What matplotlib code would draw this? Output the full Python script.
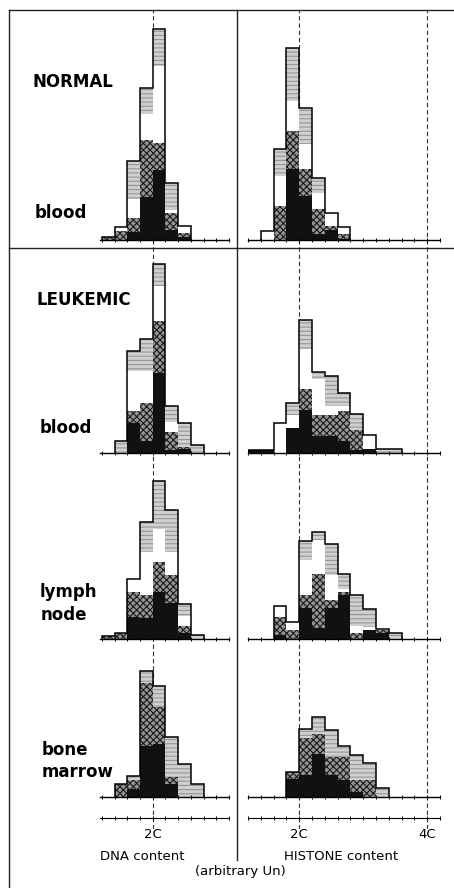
import numpy as np
import matplotlib.pyplot as plt
from matplotlib.lines import Line2D

W, H = 454, 888   # output size in pixels
bw = 0.2          # class width, in C units

# Stacked histograms, cells per class (arbitrary units)
# layer order, bottom to top: black, cross-hatched, white, lined

# NORMAL blood
nb_dna_start = 1.2
nb_dna_black = [0, 0, 8, 43, 70, 10, 3]
nb_dna_cross = [3, 9, 14, 57, 27, 17, 4]
nb_dna_white = [0, 4, 19, 26, 77, 3, 7]
nb_dna_lined = [0, 0, 38, 26, 37, 27, 0]

nb_his_start = 1.4
nb_his_black = [0, 0, 71, 44, 6, 10, 1]
nb_his_cross = [0, 34, 38, 27, 25, 4, 5]
nb_his_white = [9, 30, 30, 25, 16, 13, 7]
nb_his_lined = [0, 27, 53, 36, 15, 0, 0]

# LEUKEMIC blood
lb_dna_start = 1.4
lb_dna_black = [0, 30, 12, 80, 3, 4, 0]
lb_dna_cross = [0, 12, 38, 52, 18, 2, 0]
lb_dna_white = [0, 40, 32, 35, 10, 0, 0]
lb_dna_lined = [12, 20, 32, 22, 16, 24, 8]

lb_his_start = 1.2
lb_his_black = [3, 3, 0, 25, 43, 17, 17, 12, 3, 4, 0, 0]
lb_his_cross = [0, 0, 0, 0, 21, 21, 21, 30, 20, 0, 0, 0]
lb_his_white = [0, 0, 30, 13, 40, 36, 9, 5, 0, 14, 0, 0]
lb_his_lined = [0, 0, 0, 12, 29, 7, 30, 13, 16, 0, 4, 4]

# LEUKEMIC lymph node
ln_dna_start = 1.2
ln_dna_black = [0, 0, 22, 21, 47, 36, 6, 0]
ln_dna_cross = [3, 6, 25, 23, 30, 28, 7, 0]
ln_dna_white = [0, 0, 13, 43, 33, 23, 10, 0]
ln_dna_lined = [0, 0, 0, 30, 48, 42, 12, 4]

ln_his_start = 1.6
ln_his_black = [4, 0, 31, 11, 31, 44, 0, 9, 6, 0]
ln_his_cross = [18, 9, 13, 54, 8, 3, 6, 0, 3, 0]
ln_his_white = [11, 8, 35, 34, 25, 3, 7, 3, 1, 0]
ln_his_lined = [0, 0, 19, 8, 31, 15, 31, 18, 0, 6]

# LEUKEMIC bone marrow
bm_dna_start = 1.4
bm_dna_black = [0, 8, 51, 53, 13, 0, 0]
bm_dna_cross = [13, 9, 63, 37, 7, 0, 0]
bm_dna_white = [0, 0, 0, 0, 0, 0, 0]
bm_dna_lined = [0, 4, 12, 21, 40, 33, 13]

bm_his_start = 1.8
bm_his_black = [18, 22, 43, 22, 17, 5, 0, 0]
bm_his_cross = [7, 37, 20, 18, 23, 12, 17, 0]
bm_his_white = [0, 0, 0, 0, 0, 0, 0, 0]
bm_his_lined = [0, 9, 17, 27, 11, 25, 17, 9]

row_labels = [('NORMAL', 33, 87), ('blood', 35, 218),
              ('LEUKEMIC', 37, 305), ('blood', 40, 433),
              ('lymph', 40, 597), ('node', 41, 620),
              ('bone', 42, 755), ('marrow', 42, 777)]

###############################################################################
plt.rcParams['hatch.linewidth'] = 0.8
fig = plt.figure(figsize=(W / 100, H / 100), dpi=100)

def px_axes(x0, x1, ytop, ybot):
    ax = fig.add_axes([x0 / W, 1 - ybot / H, (x1 - x0) / W, (ybot - ytop) / H])
    ax.patch.set_alpha(0)
    return ax

cols = {'dna': dict(px=(100, 229), lim=(1.17, 3.2), marks=[2.0]),
        'his': dict(px=(248, 440), lim=(1.2, 4.2), marks=[2.0, 4.0])}
row_base = [240, 453, 639, 797]   # baseline of each row, px from top
panel_h = 230

styles = [dict(color='#111111'),
          dict(facecolor='#949494', edgecolor='#1a1a1a', hatch='xxxxx'),
          dict(facecolor='white', edgecolor='white'),
          dict(facecolor='#cfcfcf', edgecolor='#969696', hatch='----')]

#dashed 2C / 4C guide lines running down each column
for c in cols.values():
    bg = px_axes(c['px'][0], c['px'][1], 10, 829)
    bg.set_xlim(c['lim'])
    for m in c['marks']:
        bg.axvline(m, color='#333333', lw=0.8, ls=(0, (4, 2.5)))
    bg.axis('off')

panels = [
    (0, 'dna', nb_dna_start, [nb_dna_black, nb_dna_cross, nb_dna_white, nb_dna_lined]),
    (0, 'his', nb_his_start, [nb_his_black, nb_his_cross, nb_his_white, nb_his_lined]),
    (1, 'dna', lb_dna_start, [lb_dna_black, lb_dna_cross, lb_dna_white, lb_dna_lined]),
    (1, 'his', lb_his_start, [lb_his_black, lb_his_cross, lb_his_white, lb_his_lined]),
    (2, 'dna', ln_dna_start, [ln_dna_black, ln_dna_cross, ln_dna_white, ln_dna_lined]),
    (2, 'his', ln_his_start, [ln_his_black, ln_his_cross, ln_his_white, ln_his_lined]),
    (3, 'dna', bm_dna_start, [bm_dna_black, bm_dna_cross, bm_dna_white, bm_dna_lined]),
    (3, 'his', bm_his_start, [bm_his_black, bm_his_cross, bm_his_white, bm_his_lined]),
]

for row, col, start, layers in panels:
    c = cols[col]
    yb = row_base[row]
    ax = px_axes(c['px'][0], c['px'][1], yb - panel_h, yb)
    layers = np.array(layers, dtype=float)
    n = layers.shape[1]
    left = start + bw * np.arange(n)
    bottom = np.zeros(n)
    for vals, st in zip(layers, styles):
        ax.bar(left, vals, width=bw, bottom=bottom, align='edge',
               linewidth=0, antialiased=False, **st)
        bottom += vals
    ax.stairs(bottom, np.append(left, left[-1] + bw), baseline=0,
              color='k', lw=1.1)
    ax.set_xlim(c['lim'])
    ax.set_ylim(0, panel_h)
    for s in ['top', 'left', 'right']:
        ax.spines[s].set_visible(False)
    ax.spines['bottom'].set_linewidth(1.0)
    ax.set_xticks(np.arange(1.2, c['lim'][1] + 0.01, 0.2))
    ax.set_xticklabels([])
    ax.set_yticks([])
    ax.tick_params(axis='x', direction='inout', length=3, width=0.7)

#common scale under both columns
for c, lab in [(cols['dna'], ['2C']), (cols['his'], ['2C', '4C'])]:
    ax = px_axes(c['px'][0], c['px'][1], 817, 818)
    ax.set_xlim(c['lim'])
    for s in ['top', 'left', 'right']:
        ax.spines[s].set_visible(False)
    ax.set_xticks(np.arange(1.2, c['lim'][1] + 0.01, 0.2), minor=True)
    ax.set_xticks(c['marks'], lab)
    ax.set_yticks([])
    ax.tick_params(axis='x', which='both', direction='inout', length=3,
                   width=0.7, pad=6, labelsize=9.5)

#frame
for (x0, y0), (x1, y1) in [((9, 10), (454, 10)), ((9, 10), (9, 888)),
                           ((9, 248), (454, 248)), ((237, 10), (237, 860))]:
    fig.add_artist(Line2D([x0 / W, x1 / W], [1 - y0 / H, 1 - y1 / H],
                          transform=fig.transFigure, color='#222222', lw=1.0))

for txt, x, y in row_labels:
    fig.text(x / W, 1 - y / H, txt, fontsize=12, fontweight='bold',
             ha='left', va='baseline')

fig.text(142 / W, 1 - 860 / H, 'DNA content', fontsize=9.5, ha='center', va='baseline')
fig.text(341 / W, 1 - 860 / H, 'HISTONE content', fontsize=9.5, ha='center', va='baseline')
fig.text(240 / W, 1 - 875 / H, '(arbitrary Un)', fontsize=9.5, ha='center', va='baseline')

fig.savefig('out.png', dpi=100)
